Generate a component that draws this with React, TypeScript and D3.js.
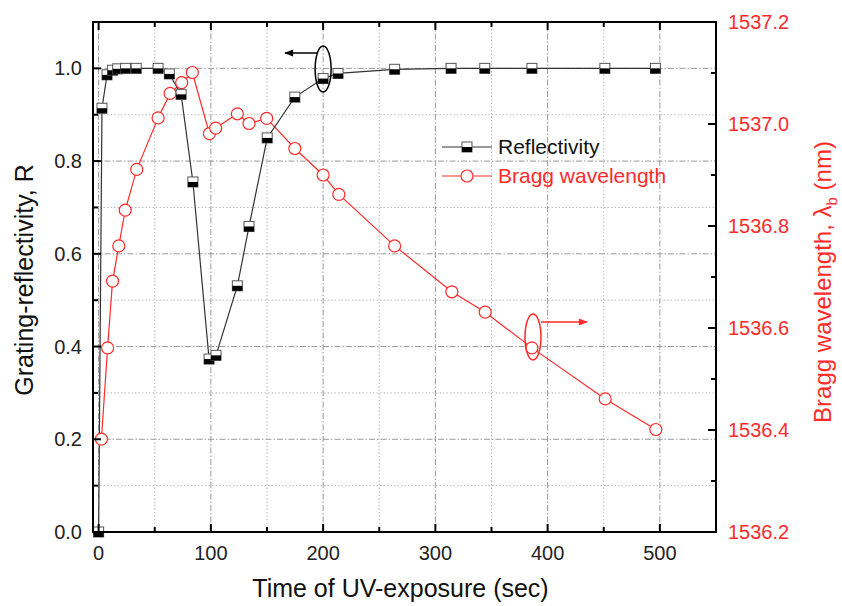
import React from "react";
import * as d3 from "d3";

// Reflectivity (left axis)
const reflTime = [0, 3, 7.5, 12.5, 17, 24, 33.5, 53, 63, 73.5, 84, 98.4, 104.6, 123.6, 134, 150.2, 174.8, 200, 213.3, 263.7, 314, 344, 386, 451, 496];
const reflValue = [0, 0.914, 0.986, 0.996, 0.999, 1.0, 1.0, 1.0, 0.988, 0.944, 0.755, 0.373, 0.381, 0.531, 0.659, 0.85, 0.938, 0.978, 0.989, 0.998, 1.0, 1.0, 1.0, 1.0, 1.0];

// Bragg wavelength (right axis)
const braggTime = [2.5, 8, 12.4, 18, 23.7, 34, 53, 63.7, 74, 83.5, 98.7, 104.3, 123.6, 134, 149.7, 174.8, 200, 214, 263.7, 314.7, 344.4, 386, 451.3, 496.4];
const braggValue = [1536.382, 1536.561, 1536.692, 1536.761, 1536.831, 1536.911, 1537.012, 1537.06, 1537.081, 1537.101, 1536.981, 1536.992, 1537.02, 1537.001, 1537.011, 1536.952, 1536.9, 1536.862, 1536.761, 1536.671, 1536.631, 1536.561, 1536.461, 1536.401];

const xTicks = [0, 100, 200, 300, 400, 500];
const xMinor = [50, 150, 250, 350, 450, 550];
const leftTicks = [0, 0.2, 0.4, 0.6, 0.8, 1.0];
const leftMinor = [0.1, 0.3, 0.5, 0.7, 0.9, 1.1];
const rightTicks = [1536.2, 1536.4, 1536.6, 1536.8, 1537.0, 1537.2];
const rightMinor = [1536.3, 1536.5, 1536.7, 1536.9, 1537.1];

const FONT = "'Liberation Sans', Arial, Helvetica, sans-serif";
const RED = "#ff2a2a";

export default function App() {
  const left = 93, right = 716, top = 22, bottom = 532;
  const x = d3.scaleLinear().domain([-5, 550]).range([left, right]);
  const yL = d3.scaleLinear().domain([0, 1.1]).range([bottom, top]);
  const yR = d3.scaleLinear().domain([1536.2, 1537.2]).range([bottom, top]);

  const refl = reflTime.map((t, i) => ({ t, v: reflValue[i] }));
  const bragg = braggTime.map((t, i) => ({ t, v: braggValue[i] }));

  const reflLine = d3.line<{ t: number; v: number }>().x((d) => x(d.t)).y((d) => yL(d.v));
  const braggLine = d3.line<{ t: number; v: number }>().x((d) => x(d.t)).y((d) => yR(d.v));

  const sq = (cx: number, cy: number, key: any) => (
    <g key={key}>
      <rect x={cx - 5} y={cy - 5} width={10} height={10} fill="#fff" stroke="#555" strokeWidth={1} />
      <rect x={cx - 5} y={cy} width={10} height={5} fill="#000" />
    </g>
  );

  return (
    <svg width={842} height={606} style={{ position: "absolute", left: 0, top: 0, background: "#fff" }} fontFamily={FONT}>
      {/* grid */}
      {xMinor.filter((v) => x(v) < right).map((v) => (
        <line key={"gxm" + v} x1={x(v)} x2={x(v)} y1={top} y2={bottom} stroke="#bbb" strokeWidth={1} strokeDasharray="1.5,2" />
      ))}
      {xTicks.map((v) => (
        <line key={"gx" + v} x1={x(v)} x2={x(v)} y1={top} y2={bottom} stroke="#999" strokeWidth={1} strokeDasharray="6,2,1.5,2" />
      ))}
      {leftMinor.map((v) => (
        <line key={"gym" + v} x1={left} x2={right} y1={yL(v)} y2={yL(v)} stroke="#bbb" strokeWidth={1} strokeDasharray="1.5,2" />
      ))}
      {leftTicks.map((v) => (
        <line key={"gy" + v} x1={left} x2={right} y1={yL(v)} y2={yL(v)} stroke="#999" strokeWidth={1} strokeDasharray="6,2,1.5,2" />
      ))}

      {/* series */}
      <path d={braggLine(bragg) ?? ""} fill="none" stroke={RED} strokeWidth={1.2} />
      <path d={reflLine(refl) ?? ""} fill="none" stroke="#333" strokeWidth={1.2} />
      {bragg.map((d, i) => (
        <circle key={"c" + i} cx={x(d.t)} cy={yR(d.v)} r={6} fill="#fff" stroke={RED} strokeWidth={1.2} />
      ))}
      {refl.map((d, i) => sq(x(d.t), yL(d.v), "s" + i))}

      {/* frame */}
      <rect x={left} y={top} width={right - left} height={bottom - top} fill="none" stroke="#000" strokeWidth={2} />

      {/* ticks */}
      {xTicks.map((v) => (
        <g key={"tx" + v}>
          <line x1={x(v)} x2={x(v)} y1={bottom} y2={bottom - 8} stroke="#000" strokeWidth={2} />
          <line x1={x(v)} x2={x(v)} y1={top} y2={top + 8} stroke="#000" strokeWidth={2} />
          <text x={x(v)} y={560} textAnchor="middle" fontSize={20} fill="#222">{v}</text>
        </g>
      ))}
      {xMinor.filter((v) => x(v) < right).map((v) => (
        <g key={"txm" + v}>
          <line x1={x(v)} x2={x(v)} y1={bottom} y2={bottom - 5} stroke="#000" strokeWidth={2} />
          <line x1={x(v)} x2={x(v)} y1={top} y2={top + 5} stroke="#000" strokeWidth={2} />
        </g>
      ))}
      {leftTicks.map((v) => (
        <g key={"tl" + v}>
          <line x1={left} x2={left + 8} y1={yL(v)} y2={yL(v)} stroke="#000" strokeWidth={2} />
          <text x={82} y={yL(v) + 7} textAnchor="end" fontSize={20} fill="#222">{v.toFixed(1)}</text>
        </g>
      ))}
      {leftMinor.map((v) => (
        <line key={"tlm" + v} x1={left} x2={left + 5} y1={yL(v)} y2={yL(v)} stroke="#000" strokeWidth={2} />
      ))}
      {rightTicks.map((v) => (
        <g key={"tr" + v}>
          <line x1={right} x2={right - 8} y1={yR(v)} y2={yR(v)} stroke="#000" strokeWidth={2} />
          <text x={728} y={yR(v) + 7} textAnchor="start" fontSize={20} fill={RED}>{v.toFixed(1)}</text>
        </g>
      ))}
      {rightMinor.map((v) => (
        <line key={"trm" + v} x1={right} x2={right - 5} y1={yR(v)} y2={yR(v)} stroke="#000" strokeWidth={2} />
      ))}

      {/* axis titles */}
      <text x={(left + right) / 2 - 4} y={597} textAnchor="middle" fontSize={25} fill="#111">Time of UV-exposure (sec)</text>
      <text transform="translate(33,280) rotate(-90)" textAnchor="middle" fontSize={25} fill="#111">Grating-reflectivity, R</text>
      <text transform="translate(831,282) rotate(-90)" textAnchor="middle" fontSize={24} fill={RED}>
        Bragg wavelength, λ<tspan fontSize={15} dy={6}>b</tspan><tspan dy={-6}> (nm)</tspan>
      </text>

      {/* legend */}
      <line x1={442} x2={492} y1={147} y2={147} stroke="#333" strokeWidth={1.2} />
      {sq(467, 147, "lg1")}
      <text x={498} y={154} fontSize={21} fill="#111">Reflectivity</text>
      <line x1={442} x2={492} y1={176} y2={176} stroke={RED} strokeWidth={1.2} />
      <circle cx={467} cy={176} r={6} fill="#fff" stroke={RED} strokeWidth={1.2} />
      <text x={498} y={183} fontSize={21} fill={RED}>Bragg wavelength</text>

      {/* annotations */}
      <defs>
        <marker id="ahk" viewBox="0 0 10 10" refX={9} refY={5} markerWidth={8} markerHeight={6} orient="auto">
          <path d="M0,1 L10,5 L0,9 z" fill="#000" />
        </marker>
        <marker id="ahr" viewBox="0 0 10 10" refX={9} refY={5} markerWidth={8} markerHeight={6} orient="auto">
          <path d="M0,1 L10,5 L0,9 z" fill={RED} />
        </marker>
      </defs>
      <ellipse cx={x(200)} cy={69} rx={8} ry={23} fill="none" stroke="#000" strokeWidth={1.5} />
      <line x1={318} x2={285} y1={53} y2={53} stroke="#000" strokeWidth={1.5} markerEnd="url(#ahk)" />
      <ellipse cx={533} cy={337} rx={8} ry={23} fill="none" stroke={RED} strokeWidth={1.5} />
      <line x1={541} x2={587} y1={322} y2={322} stroke={RED} strokeWidth={1.5} markerEnd="url(#ahr)" />
    </svg>
  );
}
